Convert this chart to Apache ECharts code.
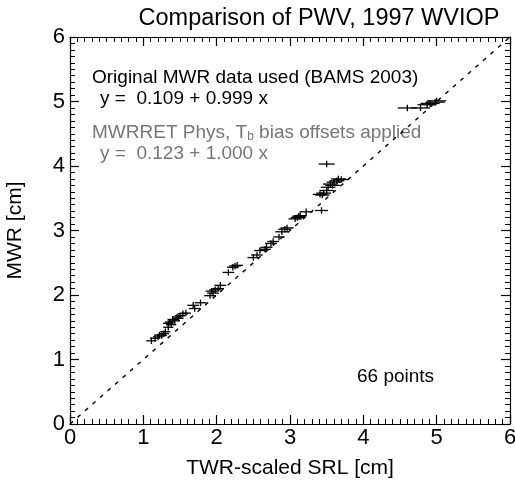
<!DOCTYPE html>
<html>
<head>
<meta charset="utf-8">
<script src="https://cdn.jsdelivr.net/npm/echarts@6/dist/echarts.min.js"></script>
<style>html,body{margin:0;padding:0;background:#fff;}#c{width:515px;height:480px;}</style>
</head>
<body>
<div id="c"></div>
<script>
var xVals = [1.11,1.16,1.20,1.25,1.22,1.28,1.30,
  1.34,1.34,1.36,1.40,1.43,1.46,1.50,1.54,1.48,1.38,1.58,
  1.68,1.70,1.78,
  1.91,1.95,1.98,2.05,2.02,1.93,
  2.16,2.22,2.25,2.28,
  2.50,2.55,2.59,2.66,2.68,2.77,2.74,2.85,
  2.89,2.93,2.96,3.07,3.10,3.12,3.14,
  3.22,3.43,
  3.41,3.44,3.46,3.52,3.55,3.58,3.64,3.66,3.70,3.50,3.60,
  3.50,
  4.60,4.78,4.87,4.91,4.98,5.00];
var yVals = [1.29,1.33,1.35,1.37,1.38,1.40,1.43,
  1.50,1.56,1.58,1.62,1.60,1.66,1.68,1.71,1.64,1.54,1.72,
  1.84,1.79,1.88,
  1.99,2.03,2.08,2.15,2.10,2.06,
  2.35,2.43,2.45,2.46,
  2.58,2.62,2.69,2.71,2.74,2.83,2.80,2.90,
  2.98,3.02,3.04,3.18,3.20,3.22,3.23,
  3.29,3.31,
  3.56,3.55,3.58,3.67,3.72,3.70,3.77,3.80,3.79,3.62,3.75,
  4.03,
  4.90,4.90,4.95,4.97,4.99,5.01];
var xErr = [0.07,0.07,0.07,0.07,0.07,0.07,0.07,
  0.07,0.07,0.07,0.07,0.07,0.07,0.07,0.07,0.07,0.07,0.07,
  0.08,0.08,0.08,
  0.08,0.08,0.08,0.08,0.08,0.08,
  0.08,0.08,0.08,0.08,
  0.08,0.08,0.08,0.08,0.08,0.08,0.08,0.08,
  0.09,0.09,0.09,0.09,0.09,0.09,0.09,
  0.09,0.09,
  0.10,0.10,0.10,0.10,0.10,0.10,0.10,0.10,0.10,0.10,0.10,
  0.11,
  0.13,0.13,0.13,0.13,0.13,0.13];
var yErr = 0.05;
var xTicks = [0,1,2,3,4,5,6];
var yTicks = [0,1,2,3,4,5,6];
var oneToOne = [[0,0],[6,6]];

var pts = xVals.map(function(x,i){return [x, yVals[i], xErr[i]];});
var FONT = 'Liberation Sans, Arial, Helvetica, sans-serif';

var chart = echarts.init(document.getElementById('c'), null, {renderer:'canvas'});

function axisBase(show){
  return {
    type:'value', min:0, max:6, interval:1,
    axisLine:{show:true, onZero:false, lineStyle:{color:'#000', width:1.2}},
    axisTick:{show:true, inside:true, length:9, lineStyle:{color:'#000', width:1.2}},
    minorTick:{show:true, splitNumber:10, length:5, lineStyle:{color:'#000', width:1}},
    splitLine:{show:false},
    axisLabel:{show:show, color:'#000', fontSize:22, fontFamily:FONT}
  };
}
var xb = axisBase(true);
xb.position='bottom';
xb.name='TWR-scaled SRL [cm]'; xb.nameLocation='middle'; xb.nameGap=34;
xb.nameTextStyle={color:'#000', fontSize:21, fontFamily:FONT};
xb.axisLabel.margin=3;
xb.axisLabel.formatter=function(v){return xTicks.indexOf(v)>=0? String(v):'';};
var xt = axisBase(false); xt.position='top';
var yl = axisBase(true);
yl.position='left';
yl.name='MWR [cm]'; yl.nameLocation='middle'; yl.nameGap=44;
yl.nameTextStyle={color:'#000', fontSize:21, fontFamily:FONT};
yl.axisLabel.margin=5;
yl.axisLabel.formatter=function(v){return yTicks.indexOf(v)>=0? String(v):'';};
var yr = axisBase(false); yr.position='right';

chart.setOption({
  animation:false,
  backgroundColor:'#fff',
  title:{text:'Comparison of PWV, 1997 WVIOP', left:314, top:2, textAlign:'center',
    textStyle:{color:'#000', fontSize:23.5, fontWeight:'normal', fontFamily:FONT}},
  grid:{left:70, right:5, top:37, bottom:56, containLabel:false, outerBoundsMode:'none'},
  xAxis:[xb, xt],
  yAxis:[yl, yr],
  graphic:[
    {type:'text', left:92, top:68, style:{text:'Original MWR data used (BAMS 2003)', fill:'#000', fontSize:19, fontFamily:FONT}},
    {type:'text', left:100, top:89, style:{text:'y =  0.109 + 0.999 x', fill:'#000', fontSize:19, fontFamily:FONT}},
    {type:'text', left:92, top:123, style:{
      text:'MWRRET Phys, T{s|b} bias offsets applied', fill:'#777', fontSize:19, fontFamily:FONT,
      rich:{s:{fontSize:12, fill:'#777', fontFamily:FONT, verticalAlign:'bottom', padding:[9,0,0,0]}}}},
    {type:'text', left:100, top:144, style:{text:'y =  0.123 + 1.000 x', fill:'#777', fontSize:19, fontFamily:FONT}},
    {type:'text', left:357, top:367, style:{text:'66 points', fill:'#000', fontSize:19, fontFamily:FONT}}
  ],
  series:[
    {type:'line', data:oneToOne, symbol:'none', silent:true,
      lineStyle:{color:'#000', width:1.4, type:[4,6]}},
    {type:'custom', data:pts, silent:true,
      renderItem:function(params, api){
        var x=api.value(0), y=api.value(1), xe=api.value(2);
        var a=api.coord([x-xe,y]), b=api.coord([x+xe,y]);
        var c=api.coord([x,y-yErr]), d=api.coord([x,y+yErr]);
        return {type:'group', children:[
          {type:'line', shape:{x1:a[0],y1:a[1],x2:b[0],y2:b[1]}, style:{stroke:'#000', lineWidth:1.3}},
          {type:'line', shape:{x1:c[0],y1:c[1],x2:d[0],y2:d[1]}, style:{stroke:'#000', lineWidth:1.3}}
        ]};
      },
      encode:{x:0,y:1}
    }
  ]
});
</script>
</body>
</html>
